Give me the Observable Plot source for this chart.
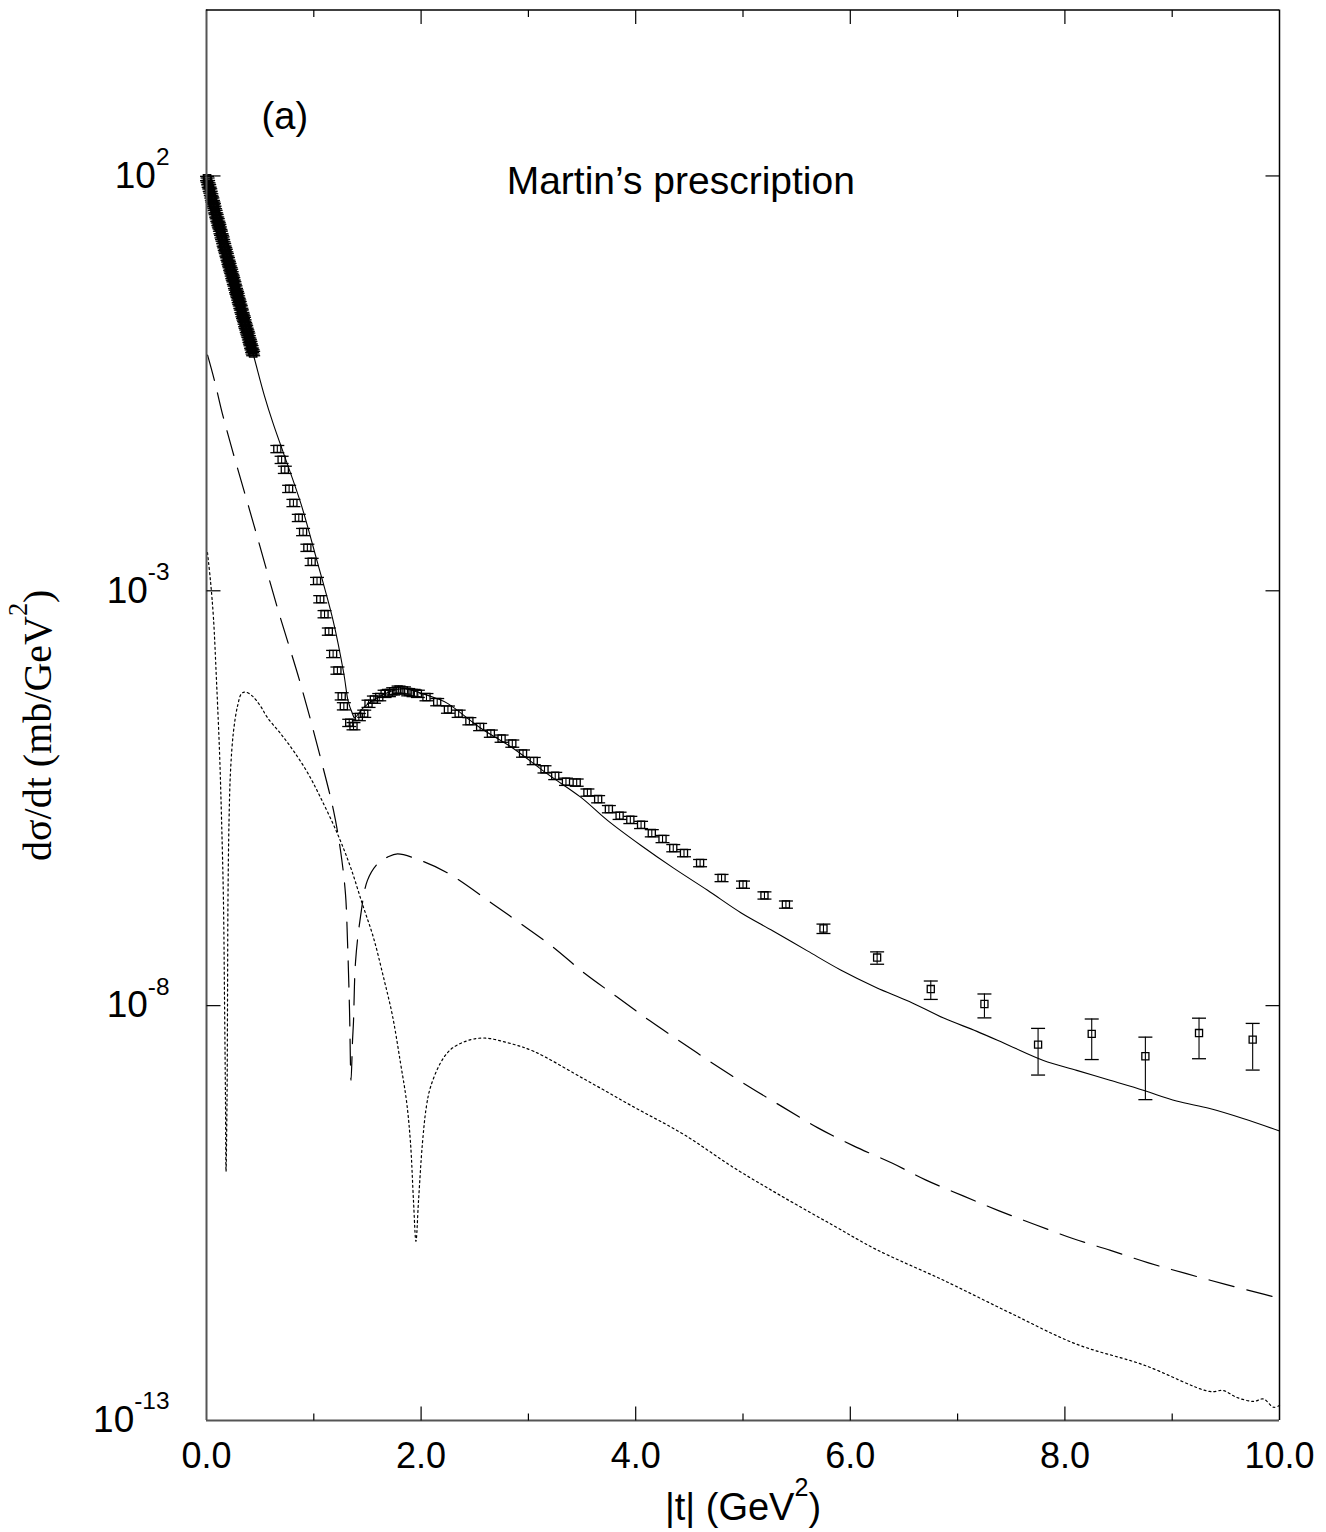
<!DOCTYPE html>
<html>
<head>
<meta charset="utf-8">
<script src="https://cdn.jsdelivr.net/npm/d3@7"></script>
<script src="https://cdn.jsdelivr.net/npm/@observablehq/plot@0.6"></script>
<style>
  body { margin: 0; background: #fff; }
</style>
</head>
<body>
<div id="chart"></div>
<script>
// Elastic pp differential cross section dσ/dt vs |t|.
// Values are stored as log10(dσ/dt in mb/GeV²); errors are relative (σ/value).

// Small-|t| measurements (dense set)
const denseT = [0.005, 0.010, 0.015, 0.020, 0.025, 0.030, 0.035, 0.040, 0.045, 0.050,
  0.055, 0.060, 0.065, 0.070, 0.075, 0.080, 0.085, 0.090, 0.095, 0.100,
  0.105, 0.110, 0.115, 0.120, 0.125, 0.130, 0.135, 0.140, 0.145, 0.150,
  0.155, 0.160, 0.165, 0.170, 0.175, 0.180, 0.185, 0.190, 0.195, 0.200,
  0.205, 0.210, 0.215, 0.220, 0.225, 0.230, 0.235, 0.240, 0.245, 0.250,
  0.255, 0.260, 0.265, 0.270, 0.275, 0.280, 0.285, 0.290, 0.295, 0.300,
  0.305, 0.310, 0.315, 0.320, 0.325, 0.330, 0.335, 0.340, 0.345, 0.350,
  0.355, 0.360, 0.365, 0.370, 0.375, 0.380, 0.385, 0.390, 0.395, 0.400,
  0.405, 0.410, 0.415, 0.420, 0.425, 0.430, 0.435];
const denseLog = [1.97, 1.95, 1.92, 1.89, 1.87, 1.84, 1.82, 1.79, 1.76, 1.73,
  1.71, 1.68, 1.66, 1.64, 1.61, 1.58, 1.56, 1.53, 1.51, 1.48,
  1.46, 1.43, 1.41, 1.39, 1.36, 1.33, 1.31, 1.28, 1.26, 1.24,
  1.21, 1.18, 1.16, 1.13, 1.11, 1.09, 1.06, 1.04, 1.01, 0.99,
  0.96, 0.94, 0.92, 0.89, 0.87, 0.85, 0.82, 0.79, 0.77, 0.75,
  0.72, 0.70, 0.67, 0.65, 0.62, 0.60, 0.58, 0.56, 0.53, 0.50,
  0.48, 0.46, 0.43, 0.41, 0.38, 0.36, 0.33, 0.31, 0.29, 0.27,
  0.24, 0.21, 0.19, 0.17, 0.14, 0.12, 0.10, 0.08, 0.05, 0.02,
  0.00, -0.02, -0.05, -0.07, -0.10, -0.12, -0.14];
const denseErr = denseT.map(() => 0.06);

// Larger-|t| measurements
const wideT = [0.66, 0.70, 0.73, 0.77, 0.81, 0.86, 0.90, 0.94, 0.98, 1.03,
  1.06, 1.10, 1.14, 1.18, 1.22, 1.26, 1.28, 1.33, 1.37, 1.42,
  1.47, 1.51, 1.56, 1.61, 1.66, 1.70, 1.74, 1.79, 1.84, 1.88,
  1.93, 1.97, 2.05, 2.15, 2.25, 2.35, 2.45, 2.55, 2.65, 2.75,
  2.85, 2.95, 3.05, 3.15, 3.25, 3.35, 3.45, 3.55, 3.65, 3.75,
  3.85, 3.95, 4.05, 4.15, 4.25, 4.35, 4.45, 4.60, 4.80, 5.00,
  5.20, 5.40, 5.75, 6.25, 6.75, 7.25, 7.75, 8.25, 8.75, 9.25,
  9.75];
const wideLog = [-1.29, -1.42, -1.54, -1.77, -1.94, -2.12, -2.29, -2.48, -2.65, -2.88,
  -3.10, -3.28, -3.49, -3.76, -3.96, -4.27, -4.39, -4.59, -4.63, -4.52,
  -4.48, -4.36, -4.31, -4.28, -4.24, -4.23, -4.21, -4.19, -4.20, -4.22,
  -4.23, -4.24, -4.28, -4.34, -4.43, -4.48, -4.57, -4.64, -4.72, -4.78,
  -4.84, -4.96, -5.05, -5.15, -5.23, -5.30, -5.31, -5.43, -5.51, -5.63,
  -5.71, -5.76, -5.82, -5.92, -5.99, -6.10, -6.16, -6.28, -6.46, -6.54,
  -6.67, -6.78, -7.07, -7.42, -7.80, -7.98, -8.47, -8.34, -8.61, -8.33,
  -8.41];
const wideErr = [0.1, 0.1, 0.1, 0.1, 0.1, 0.1, 0.1, 0.1, 0.1, 0.1,
  0.1, 0.1, 0.1, 0.1, 0.1, 0.1, 0.1, 0.1, 0.1, 0.1,
  0.1, 0.1, 0.1, 0.1, 0.1, 0.1, 0.1, 0.1, 0.1, 0.1,
  0.1, 0.1, 0.1, 0.1, 0.1, 0.1, 0.1, 0.1, 0.1, 0.1,
  0.1, 0.1, 0.1, 0.1, 0.1, 0.1, 0.1, 0.1, 0.1, 0.1,
  0.1, 0.1, 0.1, 0.1, 0.1, 0.1, 0.1, 0.1, 0.1, 0.1,
  0.1, 0.1, 0.13, 0.17, 0.25, 0.32, 0.57, 0.51, 0.70, 0.51,
  0.57];

// Full model (solid)
const solidT = [0, 0.22, 0.44, 0.54, 0.62, 0.72, 0.88, 1.03, 1.18, 1.28,
  1.32, 1.36, 1.38, 1.46, 1.59, 1.72, 1.84, 1.99, 2.15, 2.25,
  2.55, 2.86, 3.18, 3.49, 3.74, 4.05, 4.35, 4.67, 4.98, 5.28,
  5.60, 5.91, 6.24, 6.55, 6.87, 7.18, 7.48, 7.80, 8.11, 8.42,
  8.73, 9.04, 9.35, 9.66, 10.0];
const solidLog = [1.94, 0.88, -0.17, -0.65, -0.98, -1.35, -1.95, -2.64, -3.36, -4.00,
  -4.33, -4.48, -4.53, -4.41, -4.29, -4.21, -4.18, -4.23, -4.30, -4.36,
  -4.65, -4.90, -5.21, -5.49, -5.77, -6.07, -6.34, -6.61, -6.88, -7.10,
  -7.34, -7.57, -7.78, -7.95, -8.15, -8.31, -8.48, -8.66, -8.78, -8.90,
  -9.02, -9.15, -9.24, -9.36, -9.51];

// Partial contribution (long dashes)
const dashedT = [0.01, 0.075, 0.149, 0.242, 0.438, 0.662, 0.876, 1.062, 1.184, 1.249,
  1.295, 1.314, 1.333, 1.347, 1.361, 1.370, 1.389, 1.435, 1.500, 1.594,
  1.687, 1.780, 1.994, 2.246, 2.675, 2.926, 3.225, 3.523, 3.821, 4.129,
  4.436, 4.734, 5.061, 5.368, 5.694, 6.030, 6.393, 6.701, 7.046, 7.381,
  7.726, 8.080, 8.425, 8.779, 9.133, 9.497, 9.860, 10.0];
const dashedLog = [-0.16, -0.47, -0.87, -1.31, -2.19, -3.21, -4.12, -5.01, -5.65, -6.13,
  -6.65, -7.22, -8.06, -8.90, -8.42, -8.19, -7.47, -6.93, -6.49, -6.29,
  -6.21, -6.17, -6.25, -6.40, -6.78, -7.01, -7.29, -7.61, -7.89, -8.18,
  -8.45, -8.71, -8.98, -9.22, -9.47, -9.69, -9.90, -10.10, -10.29, -10.47,
  -10.64, -10.81, -10.95, -11.10, -11.23, -11.36, -11.48, -11.53];

// Partial contribution (dotted)
const dottedT = [0.009, 0.037, 0.065, 0.093, 0.121, 0.140, 0.158, 0.168, 0.177, 0.182,
  0.191, 0.196, 0.200, 0.210, 0.224, 0.252, 0.289, 0.326, 0.363, 0.429,
  0.503, 0.569, 0.690, 0.811, 0.941, 1.062, 1.221, 1.342, 1.454, 1.556,
  1.650, 1.733, 1.808, 1.864, 1.901, 1.929, 1.952, 1.976, 2.013, 2.050,
  2.088, 2.181, 2.274, 2.414, 2.582, 2.815, 3.048, 3.514, 3.980, 4.445,
  4.911, 5.378, 5.843, 6.244, 6.869, 7.484, 8.108, 8.733, 9.348, 9.478,
  9.599, 9.758, 9.851, 9.944, 10.0];
const dottedLog = [-2.54, -2.88, -3.33, -4.08, -4.93, -5.74, -6.74, -7.94, -9.15, -10.00,
  -9.15, -7.94, -6.74, -5.77, -5.17, -4.69, -4.39, -4.24, -4.22, -4.27,
  -4.39, -4.53, -4.72, -4.93, -5.19, -5.49, -5.93, -6.33, -6.78, -7.18,
  -7.66, -8.12, -8.69, -9.15, -9.65, -10.35, -10.84, -10.35, -9.65, -9.21,
  -8.98, -8.69, -8.53, -8.43, -8.39, -8.45, -8.55, -8.88, -9.22, -9.55,
  -9.95, -10.31, -10.65, -10.94, -11.31, -11.70, -12.08, -12.33, -12.65, -12.64,
  -12.72, -12.77, -12.74, -12.84, -12.82];

// Axis ticks
const xLabelTicks = [0, 2, 4, 6, 8, 10];
const xMajorTicks = [2, 4, 6, 8];
const xMinorTicks = [1, 3, 5, 7, 9];
const yLabelTicks = [1e2, 1e-3, 1e-8, 1e-13];
const yMajorTicks = [1e2, 1e-3, 1e-8];

// Build row objects from the arrays
const curve = (ts, logs) => ts.map((t, i) => ({t, v: 10 ** logs[i]}));
const dense = denseT.map((t, i) => ({t, v: 10 ** denseLog[i], err: denseErr[i]}));
const wide = wideT.map((t, i) => ({t, v: 10 ** wideLog[i], err: wideErr[i]}));
const points = [...dense, ...wide];
const solid = curve(solidT, solidLog);
const dashed = curve(dashedT, dashedLog);
const dotted = curve(dottedT, dottedLog);

// Line-shaped symbols for error-bar caps and inward axis ticks
const segment = (dx0, dy0, dx1, dy1) => ({
  draw(ctx, size) {
    const l = Math.sqrt(size / Math.PI);
    ctx.moveTo(dx0 * l, dy0 * l);
    ctx.lineTo(dx1 * l, dy1 * l);
  }
});
const capSym = segment(-1, 0, 1, 0);
const tickUp = segment(0, 0, 0, -1);
const tickDown = segment(0, 0, 0, 1);
const tickRight = segment(0, 0, 1, 0);
const tickLeft = segment(0, 0, -1, 0);

const YMIN = 1e-13, YMAX = 1e4;
const sans = "'Liberation Sans', Arial, Helvetica, sans-serif";
const serif = "'Liberation Serif', 'Times New Roman', serif";

const chart = Plot.plot({
  width: 1326,
  height: 1532,
  marginLeft: 206,
  marginRight: 47,
  marginTop: 9.5,
  marginBottom: 112,
  style: {background: "#fff", color: "#000", fontFamily: sans, fontSize: "36px"},
  x: {domain: [0, 10]},
  y: {type: "log", domain: [YMIN, YMAX]},
  marks: [
    // model curves
    Plot.line(dotted, {x: "t", y: "v", stroke: "#000", strokeWidth: 1.2, strokeDasharray: "2,3", curve: "catmull-rom"}),
    Plot.line(dashed, {x: "t", y: "v", stroke: "#000", strokeWidth: 1.2, strokeDasharray: "26,13", curve: "catmull-rom"}),
    Plot.line(solid, {x: "t", y: "v", stroke: "#000", strokeWidth: 1.1, curve: "catmull-rom"}),

    // measurements with error bars
    Plot.ruleX(points, {x: "t", y1: d => d.v * (1 - d.err), y2: d => d.v * (1 + d.err), stroke: "#000", strokeWidth: 1.1}),
    Plot.dot(points, {x: "t", y: d => d.v * (1 + d.err), symbol: capSym, r: 7, stroke: "#000", fill: "none", strokeWidth: 1.3}),
    Plot.dot(points, {x: "t", y: d => d.v * (1 - d.err), symbol: capSym, r: 7, stroke: "#000", fill: "none", strokeWidth: 1.3}),
    Plot.dot(dense, {x: "t", y: "v", symbol: "square", r: 4, stroke: "#000", fill: "none", strokeWidth: 1.6}),
    Plot.dot(wide, {x: "t", y: "v", symbol: "square", r: 4, stroke: "#000", fill: "none", strokeWidth: 1.3}),

    // frame
    Plot.ruleX([0], {stroke: "#555", strokeWidth: 2}),
    Plot.ruleY([YMIN], {stroke: "#555", strokeWidth: 2}),
    Plot.ruleX([10], {stroke: "#000", strokeWidth: 1.5}),
    Plot.ruleY([YMAX], {stroke: "#000", strokeWidth: 1.5}),

    // inward ticks on all four sides
    Plot.dot(xMajorTicks, {x: d => d, y: YMIN, symbol: tickUp, r: 14, stroke: "#000", fill: "none", strokeWidth: 1.2}),
    Plot.dot(xMinorTicks, {x: d => d, y: YMIN, symbol: tickUp, r: 7, stroke: "#000", fill: "none", strokeWidth: 1.2}),
    Plot.dot(xMajorTicks, {x: d => d, y: YMAX, symbol: tickDown, r: 14, stroke: "#000", fill: "none", strokeWidth: 1.2}),
    Plot.dot(xMinorTicks, {x: d => d, y: YMAX, symbol: tickDown, r: 7, stroke: "#000", fill: "none", strokeWidth: 1.2}),
    Plot.dot(yMajorTicks, {x: 0, y: d => d, symbol: tickRight, r: 14, stroke: "#000", fill: "none", strokeWidth: 1.2}),
    Plot.dot(yMajorTicks, {x: 10, y: d => d, symbol: tickLeft, r: 14, stroke: "#000", fill: "none", strokeWidth: 1.2}),

    // tick labels
    Plot.axisX({ticks: xLabelTicks, anchor: "bottom", tickSize: 0, tickPadding: 22, fontSize: 36,
      tickFormat: d => d.toFixed(1), label: null}),
    Plot.axisY({ticks: yLabelTicks, anchor: "left", tickSize: 0, tickPadding: 37, fontSize: 37,
      tickFormat: d => `10^{${Math.round(Math.log10(d))}}`, label: null}),

    // axis titles
    Plot.text(["|t| (GeV^{2})"], {frameAnchor: "bottom", textAnchor: "middle", lineAnchor: "middle",
      dy: 87, fontSize: 38, fontFamily: sans, fill: "#000"}),
    Plot.text(["dσ/dt (mb/GeV^{2})"], {frameAnchor: "left", textAnchor: "middle", lineAnchor: "middle",
      dx: -168, dy: 10, rotate: -90, fontSize: 40, fontFamily: serif, fill: "#000"}),

    // annotations
    Plot.text(["(a)"], {x: 0.73, y: 510, fontSize: 38, fontFamily: sans, fill: "#000"}),
    Plot.text(["Martin’s prescription"], {x: 4.42, y: 86, fontSize: 39, fontFamily: sans, fill: "#000"})
  ]
});

document.getElementById("chart").appendChild(chart);

// Turn "^{...}" markup into raised, smaller tspans
function superscripts(el) {
  const fs = parseFloat(getComputedStyle(el).fontSize);
  const parts = el.textContent.split(/\^\{([^}]*)\}/);
  el.textContent = "";
  let raised = 0;
  parts.forEach((p, i) => {
    const ts = document.createElementNS("http://www.w3.org/2000/svg", "tspan");
    if (i % 2) {
      ts.setAttribute("font-size", (0.66 * fs).toFixed(1));
      ts.setAttribute("dy", (-0.62 * fs).toFixed(1));
      raised = 0.62 * fs;
    } else {
      if (!p) return;
      if (raised) ts.setAttribute("dy", raised.toFixed(1));
      raised = 0;
    }
    ts.textContent = p;
    el.appendChild(ts);
  });
}
chart.querySelectorAll("text").forEach(el => {
  if (el.textContent.includes("^{")) superscripts(el);
});
</script>
</body>
</html>
